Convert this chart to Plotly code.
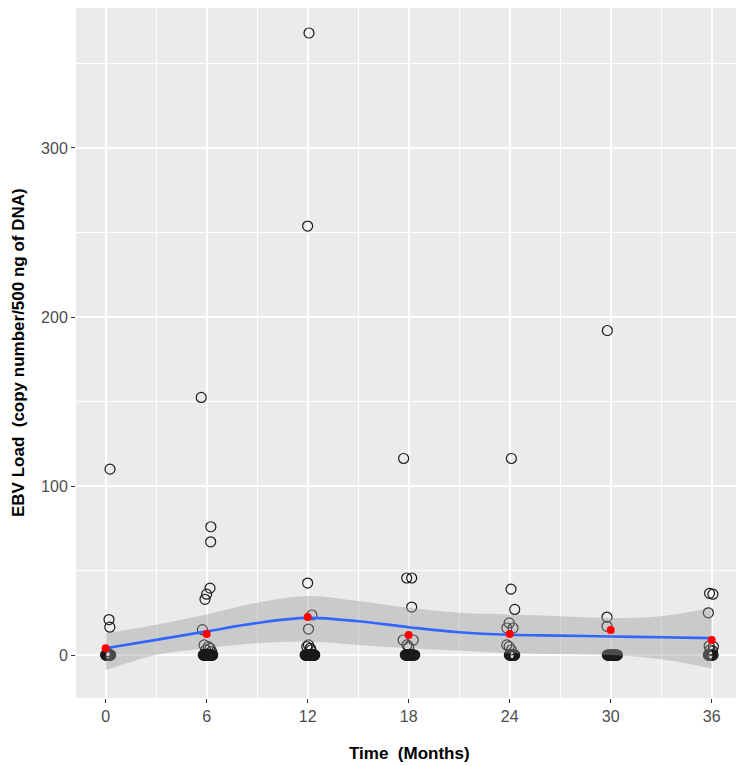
import plotly.graph_objects as go

# ---------------- data ----------------
# Individual observations (jittered time, EBV load)
t0_time = [0.26, 0.20, 0.25, 0.10,
           0.00, 0.03, 0.06, 0.09, 0.12, 0.15, 0.18, 0.21, 0.24, 0.27, 0.30, 0.05, 0.14, 0.22]
t0_load = [110, 21, 16.5, 2,
           0, 0, 0, 0, 0, 0, 0, 0, 0, 0, 0, 0, 0, 0]

t6_time = [5.68, 6.25, 6.24, 6.20, 6.00, 5.90, 5.75, 5.85, 6.10, 6.20, 5.95, 6.30,
           5.80, 5.84, 5.88, 5.92, 5.96, 6.00, 6.04, 6.08, 6.12, 6.16, 6.20, 6.24, 6.28,
           6.32, 6.36, 5.86, 5.98, 6.10, 6.22, 6.34]
t6_load = [152.4, 75.9, 67, 39.6, 36, 33, 15, 6, 5, 4, 3, 2,
           0, 0, 0, 0, 0, 0, 0, 0, 0, 0, 0, 0, 0,
           0, 0, 0, 0, 0, 0, 0]

t12_time = [12.08, 12.00, 12.00, 12.25, 12.05, 11.95, 12.15, 12.20, 12.05,
            11.85, 11.88, 11.91, 11.94, 11.97, 12.00, 12.03, 12.06, 12.09, 12.12, 12.15,
            12.18, 12.21, 12.24, 12.27, 12.30, 12.33, 12.36, 12.39, 12.42, 11.90, 12.02, 12.14,
            12.26, 12.38]
t12_load = [368, 253.8, 42.6, 23.7, 15.4, 5, 4, 3, 6,
            0, 0, 0, 0, 0, 0, 0, 0, 0, 0, 0,
            0, 0, 0, 0, 0, 0, 0, 0, 0, 0, 0, 0,
            0, 0]

t18_time = [17.70, 17.88, 18.18, 18.18, 17.67, 18.27, 17.90, 18.00,
            17.80, 17.84, 17.88, 17.92, 17.96, 18.00, 18.04, 18.08, 18.12, 18.16, 18.20,
            18.24, 18.28, 18.32, 18.36, 17.90, 18.06, 18.22]
t18_load = [116.3, 45.6, 45.6, 28.4, 8.9, 8.9, 6, 5,
            0, 0, 0, 0, 0, 0, 0, 0, 0, 0, 0,
            0, 0, 0, 0, 0, 0, 0]

t24_time = [24.10, 24.08, 24.30, 23.97, 23.83, 24.20, 23.83, 23.97, 24.10,
            23.98, 24.02, 24.06, 24.10, 24.14, 24.18, 24.22, 24.26, 24.30, 24.04, 24.16, 24.28]
t24_load = [116.3, 39, 27, 19, 16, 16, 6, 5, 3,
            0, 0, 0, 0, 0, 0, 0, 0, 0, 0, 0, 0]

t30_time = [29.80, 29.78, 29.78,
            29.80, 29.84, 29.88, 29.92, 29.96, 30.00, 30.04, 30.08, 30.12, 30.16, 30.20,
            30.24, 30.28, 30.32, 30.36, 30.40, 29.90, 30.10, 30.30]
t30_load = [192, 22.5, 17,
            0, 0, 0, 0, 0, 0, 0, 0, 0, 0, 0,
            0, 0, 0, 0, 0, 0, 0, 0]

t36_time = [35.87, 36.07, 35.80, 35.85, 36.10, 35.90, 36.05,
            35.80, 35.84, 35.88, 35.92, 35.96, 36.00, 36.04, 36.08]
t36_load = [36.5, 36, 25, 5.4, 5, 3, 2.5,
            0, 0, 0, 0, 0, 0, 0, 0]

# Group means (red points)
mean_time = [0, 6, 12, 18, 24, 30, 36]
mean_load = [4, 12.4, 22.5, 11.8, 12.4, 14.8, 8.9]

# Loess smooth with confidence band
smooth_time = [0, 3, 6, 9, 12, 15, 18, 21, 24, 27, 30, 33, 36]
smooth_fit = [4, 9, 14, 19, 22, 20, 16.5, 13.5, 12, 11.5, 11, 10.5, 10]
smooth_upper = [13, 18, 24, 31, 35, 32, 28, 25, 24, 23, 22, 23, 28]
smooth_lower = [-9, 0, 4, 7, 8, 6, 4, 2.5, 1, 0.5, 0, -2.5, -8]

x_ticks = [0, 6, 12, 18, 24, 30, 36]
y_ticks = [0, 100, 200, 300]

x_title = "Time  (Months)"
y_title = "EBV Load  (copy number/500 ng of DNA)"

# ---------------- figure ----------------
all_time = t0_time + t6_time + t12_time + t18_time + t24_time + t30_time + t36_time
all_load = t0_load + t6_load + t12_load + t18_load + t24_load + t30_load + t36_load

fig = go.Figure()

fig.add_trace(go.Scatter(
    x=all_time, y=all_load, mode="markers",
    marker=dict(symbol="circle-open", size=10, color="#1a1a1a", line=dict(width=1.2, color="#1a1a1a")),
    showlegend=False, hoverinfo="skip"))

fig.add_trace(go.Scatter(
    x=smooth_time, y=smooth_upper, mode="lines", line=dict(width=0, shape="spline"),
    showlegend=False, hoverinfo="skip"))
fig.add_trace(go.Scatter(
    x=smooth_time, y=smooth_lower, mode="lines", line=dict(width=0, shape="spline"),
    fill="tonexty", fillcolor="rgba(153,153,153,0.4)",
    showlegend=False, hoverinfo="skip"))
fig.add_trace(go.Scatter(
    x=smooth_time, y=smooth_fit, mode="lines", line=dict(color="#3366FF", width=2.6, shape="spline"),
    showlegend=False, hoverinfo="skip"))

fig.add_trace(go.Scatter(
    x=mean_time, y=mean_load, mode="markers",
    marker=dict(symbol="circle", size=8, color="#FF0000", line=dict(width=0)),
    showlegend=False, hoverinfo="skip"))

font_family = "Liberation Sans, Arial, sans-serif"

# The page adds an 8px body margin, so the figure is 8px smaller and offsets compensate.
fig.update_layout(
    width=736, height=758,
    margin=dict(l=68, r=2, t=0, b=68),
    paper_bgcolor="white",
    plot_bgcolor="#EBEBEB",
    font=dict(family=font_family),
    xaxis=dict(
        range=[-1.76, 37.8], tickmode="array", tickvals=x_ticks, ticktext=[str(v) for v in x_ticks],
        showgrid=True, gridcolor="white", gridwidth=1.6, zeroline=False, showline=False,
        ticks="outside", ticklen=4, tickwidth=1, tickcolor="#333333",
        tickfont=dict(size=16, color="#4D4D4D", family=font_family),
        minor=dict(tickmode="array", tickvals=[3, 9, 15, 21, 27, 33], showgrid=True,
                   gridcolor="white", gridwidth=0.8, ticks=""),
    ),
    yaxis=dict(
        range=[-25.4, 382.8], tickmode="array", tickvals=y_ticks, ticktext=[str(v) for v in y_ticks],
        showgrid=True, gridcolor="white", gridwidth=1.6, zeroline=False, showline=False,
        ticks="outside", ticklen=4, tickwidth=1, tickcolor="#333333",
        tickfont=dict(size=16, color="#4D4D4D", family=font_family),
        minor=dict(tickmode="array", tickvals=[50, 150, 250, 350], showgrid=True,
                   gridcolor="white", gridwidth=0.8, ticks=""),
    ),
    annotations=[
        dict(text="<b>" + x_title.replace("  ", "&nbsp; ") + "</b>", xref="paper", yref="paper",
             x=0.5, y=0, xanchor="center", yanchor="middle", yshift=-55, showarrow=False,
             font=dict(size=17, color="black", family=font_family)),
        dict(text="<b>" + y_title.replace("  ", "&nbsp; ") + "</b>", xref="paper", yref="paper",
             x=0, y=0.5, xanchor="center", yanchor="middle", xshift=-58, textangle=-90,
             showarrow=False, font=dict(size=17, color="black", family=font_family)),
    ],
)

fig.write_html("out.html")
